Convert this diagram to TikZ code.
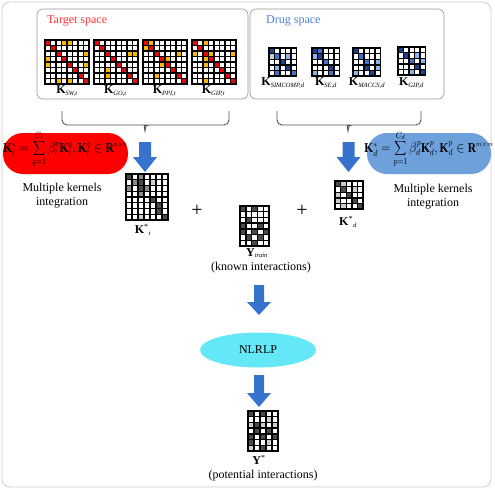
\documentclass[tikz,border=0pt]{standalone}
\usepackage{fontspec}
\usepackage{graphicx}
\setmainfont{Liberation Serif}
\usetikzlibrary{shapes.geometric}
\definecolor{tred}{RGB}{230,10,10}
\definecolor{tyel}{RGB}{250,185,0}
\definecolor{dblue}{RGB}{30,65,140}
\definecolor{mblue}{RGB}{65,115,200}
\definecolor{lblue}{RGB}{140,180,235}
\definecolor{cgray}{RGB}{205,205,205}
\definecolor{dg}{RGB}{75,75,75}
\definecolor{mg}{RGB}{140,140,140}
\definecolor{lg}{RGB}{205,205,205}
\definecolor{arrowblue}{RGB}{55,115,205}
\definecolor{pillred}{RGB}{255,0,0}
\definecolor{pillblue}{RGB}{110,160,220}
\definecolor{nlcyan}{RGB}{100,232,248}
\definecolor{framecol}{RGB}{205,205,205}
\definecolor{boxgray}{RGB}{150,150,150}
\definecolor{spred}{RGB}{255,50,50}
\definecolor{spblue}{RGB}{70,130,220}
\definecolor{bracecol}{RGB}{80,80,80}
\tikzset{
  gridline/.style={black, line width=1.4pt, line cap=rect},
  spacebox/.style={draw=boxgray, line width=0.6pt, rounded corners=6},
  spacetitle/.style={font=\fontsize{12}{14}\selectfont, anchor=west, inner sep=0},
  matlabel/.style={font=\fontsize{12}{14}\selectfont, inner sep=0},
  bodytext/.style={font=\fontsize{12}{14}\selectfont, align=center, inner sep=0},
  bracestyle/.style={draw=bracecol, line width=0.9pt},
}
\newcommand{\smallsub}[1]{\textsubscript{\fontsize{6.5}{7}\selectfont\textit{#1}}}
\newcommand{\cellmat}[8]{%
  \node[inner sep=0, outer sep=0, minimum width={#4*#6}, minimum height={#5*#7}, anchor=north west] (#1) at (#2,#3) {};
  \foreach \c/\r/\col in {#8} {\fill[\col] ({#2+(\c-1)*#6},{#3+(\r-1)*#7}) rectangle ++(#6,#7);}
  \foreach \i in {0,...,#4} {\draw[gridline] ({#2+\i*#6},#3) -- ++(0,{#5*#7});}
  \foreach \j in {0,...,#5} {\draw[gridline] (#2,{#3+\j*#7}) -- ++({#4*#6},0);}
}
\newcommand{\blockarrow}[5]{% x, top, tip, shaft half, head length
  \fill[arrowblue] ({#1-#4},#2) -- ({#1+#4},#2) -- ({#1+#4},{#3-#5}) -- ({#1+12},{#3-#5}) -- (#1,#3) -- ({#1-12},{#3-#5}) -- ({#1-#4},{#3-#5}) -- cycle;}
\begin{document}
\begin{tikzpicture}[x=1pt,y=-1pt]
\useasboundingbox (0,0) rectangle (495,491);
\draw[framecol, line width=0.8pt, rounded corners=8] (2,2) rectangle (491,487);

% space boxes
\draw[spacebox] (37,9) rectangle (248,99);
\draw[spacebox] (250,9) rectangle (444,99);
\node[spacetitle, text=spred] (tt) at (47,21) {Target space};
\node[spacetitle, text=spblue] (dt) at (266,21) {Drug space};

% target matrices
\cellmat{msw}{45}{40}{8}{8}{5.5}{5.5}{1/1/tred,4/1/tyel,5/1/tyel,2/2/tred,3/3/tred,8/3/tyel,1/4/tyel,4/4/tred,1/5/tyel,5/5/tred,8/5/tyel,6/6/tred,7/7/tred,3/8/tyel,5/8/tyel,8/8/tred}
\cellmat{mgo}{94}{40}{8}{8}{5.5}{5.5}{1/1/tred,2/2/tred,3/3/tred,7/3/tyel,8/3/tyel,4/4/tred,5/5/tred,3/6/tyel,6/6/tred,3/7/tyel,7/7/tred,8/8/tred}
\cellmat{mppi}{143}{40}{8}{8}{5.5}{5.5}{1/1/tred,2/1/tyel,1/2/tyel,2/2/tred,3/3/tred,7/3/tyel,4/4/tred,5/4/tyel,4/5/tyel,5/5/tred,6/6/tred,3/7/tyel,7/7/tred,8/8/tred}
\cellmat{mgipt}{192}{40}{8}{8}{5.5}{5.5}{1/1/tred,3/1/tyel,2/2/tred,1/3/tyel,3/3/tred,4/3/tyel,8/3/tyel,3/4/tyel,4/4/tred,3/5/tyel,5/5/tred,6/6/tred,7/7/tred,3/8/tyel,8/8/tred}
\node[matlabel] (lsw) at (67,91) {\textbf{K}\smallsub{SW,t}};
\node[matlabel] (lgo) at (115.5,91) {\textbf{K}\smallsub{GO,t}};
\node[matlabel] (lppi) at (164.5,91) {\textbf{K}\smallsub{PPI,t}};
\node[matlabel] (lgipt) at (213.5,91) {\textbf{K}\smallsub{GIP,t}};

% drug matrices
\cellmat{msim}{269}{48}{5}{5}{5.5}{5.6}{1/1/dblue,1/2/cgray,2/2/mblue,4/2/lblue,3/3/dblue,2/4/lblue,4/4/dblue,2/5/mblue,5/5/mblue}
\cellmat{mse}{312}{48}{5}{5}{5.5}{5.6}{1/1/dblue,2/1/mblue,1/2/lblue,2/2/dblue,3/3/mblue,4/4/dblue,1/5/lblue,4/5/mblue}
\cellmat{mmac}{353}{48}{5}{5}{5.5}{5.6}{1/1/dblue,2/2/mblue,3/3/mblue,5/3/lblue,3/4/dblue,5/4/lblue,1/5/lblue,4/5/dblue}
\cellmat{mgipd}{398}{47}{5}{5}{5.5}{5.6}{1/1/dblue,2/2/dblue,4/2/lblue,3/3/mblue,5/3/lblue,4/4/dblue,3/5/lblue,5/5/dblue}
\node[matlabel] (lsim) at (283,83) {\textbf{K}\smallsub{SIMCOMP,d}};
\node[matlabel] (lse) at (326,83) {\textbf{K}\smallsub{SE,d}};
\node[matlabel] (lmac) at (367,83) {\textbf{K}\smallsub{MACCS,d}};
\node[matlabel] (lgipd) at (411.5,83) {\textbf{K}\smallsub{GIP,d}};

% braces
\draw[bracestyle] (62,111) [rounded corners=5] -- (62,125) -- (141,125) [sharp corners] .. controls (144,125) .. (145,131) .. controls (146,125) .. (149,125) [rounded corners=5] -- (229,125) -- (229,111);
\draw[bracestyle] (277,111) [rounded corners=5] -- (277,125) -- (344,125) [sharp corners] .. controls (347,125) .. (348,131) .. controls (349,125) .. (352,125) [rounded corners=5] -- (421,125) -- (421,111);

% arrows
\blockarrow{145}{142}{172}{6}{15}
\blockarrow{348.5}{142}{172}{6}{15}

% pills
\fill[pillred, rounded corners=20] (3,133) rectangle (128,174);
\node[inner sep=0] (ft) at (65.5,149) {\scalebox{0.84}[1]{\fontsize{13.5}{15}\selectfont$\mathbf{K}_t^{*}=\displaystyle\sum_{q=1}^{C_t}\beta_t^{q}\mathbf{K}_t^{q},\mathbf{K}_t^{q}\in\mathbf{R}^{\scriptscriptstyle n\times n}$}};
\fill[pillblue, rounded corners=20] (367,133) rectangle (491,174);
\node[inner sep=0] (fd) at (429,149) {\scalebox{0.84}[1]{\fontsize{13.5}{15}\selectfont$\mathbf{K}_d^{*}=\displaystyle\sum_{p=1}^{C_d}\beta_d^{p}\mathbf{K}_d^{p},\mathbf{K}_d^{p}\in\mathbf{R}^{\scriptscriptstyle m\times m}$}};
\node[bodytext] (mkl) at (62,196) {Multiple kernels\\integration};
\node[bodytext] (mkr) at (433,197) {Multiple kernels\\integration};

% integrated matrices
\cellmat{kt}{126}{174}{7}{8}{6}{5.75}{1/1/dg,3/1/mg,2/2/mg,3/2/dg,5/2/lg,1/3/mg,3/3/dg,4/3/mg,3/4/mg,5/5/dg,6/6/dg,6/7/dg,3/8/lg,7/8/dg}
\node[matlabel] (lkt) at (143,230) {\textbf{K}\textsuperscript{*}\smallsub{t}};
\cellmat{yt}{240}{206}{5}{7}{5.8}{5.7}{1/1/dg,3/1/dg,2/3/dg,1/4/dg,4/4/dg,1/5/dg,3/5/dg,5/5/dg,2/6/dg,4/6/dg,3/7/dg}
\node[matlabel] (lyt) at (257,253) {\textbf{Y}\smallsub{train}};
\node[bodytext] (known) at (261,268) {(known interactions)};
\cellmat{kd}{335}{181}{5}{5}{5.6}{5.6}{1/1/dg,2/1/lg,2/2/dg,4/2/lg,1/3/lg,3/3/dg,4/4/dg,1/4/lg,2/5/lg,5/5/dg}
\node[matlabel] (lkd) at (348,222) {\textbf{K}\textsuperscript{*}\smallsub{d}};
\node[font=\fontsize{20}{20}\selectfont, inner sep=0] (p1) at (197,211) {+};
\node[font=\fontsize{20}{20}\selectfont, inner sep=0] (p2) at (302,211) {+};

% NLRLP
\blockarrow{259}{285}{315}{5}{13}
\node[ellipse, fill=nlcyan, minimum width=116, minimum height=35, inner sep=0, font=\fontsize{12}{14}\selectfont] (nl) at (258,350) {NLRLP};
\blockarrow{259}{375}{407}{5}{14}

\cellmat{ys}{248}{411}{5}{7}{6}{5.7}{1/1/dg,3/1/dg,4/2/lg,1/3/lg,2/3/dg,3/3/lg,5/3/lg,2/4/dg,4/4/dg,1/5/dg,3/5/dg,5/5/dg,1/6/dg,4/6/lg,1/7/lg,3/7/dg}
\node[matlabel] (lys) at (259,460) {\textbf{Y}\textsuperscript{*}};
\node[bodytext] (pot) at (263,476) {(potential interactions)};
\end{tikzpicture}
\end{document}
